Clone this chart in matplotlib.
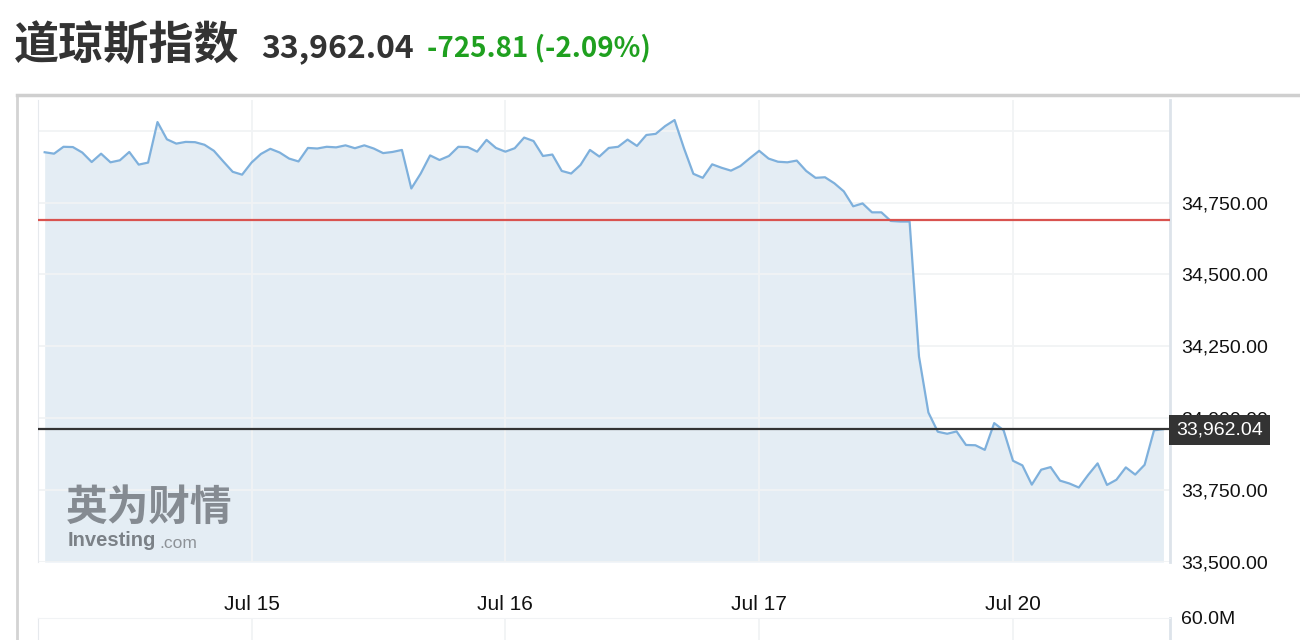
import numpy as np
import matplotlib
matplotlib.use("Agg")
from matplotlib import pyplot as plt

plt.rcParams['font.family'] = ['Liberation Sans', 'DejaVu Sans']
CJK = ['Noto Sans CJK SC', 'DejaVu Sans']

# ---- data (15-min closes) ----
title = "道琼斯指数"
last_price = 33962.04
change = -725.81
change_pct = -2.09
prev_close = 34687.85

prices = [
    34925, 34920, 34944, 34943, 34924, 34891, 34920, 34890, 34897, 34926,
    34882, 34889, 35030, 34970, 34955, 34961, 34960, 34951, 34930, 34893,
    34857, 34847, 34889, 34919, 34937, 34924, 34903, 34893, 34940, 34938,
    34944, 34942, 34949, 34939, 34949, 34938, 34922, 34926, 34933, 34799,
    34851, 34914, 34898, 34912, 34944, 34943, 34927, 34968, 34940, 34927,
    34939, 34976, 34964, 34912, 34917, 34860, 34851, 34881, 34933, 34910,
    34940, 34944, 34969, 34947, 34985, 34989, 35016, 35037, 34939, 34850,
    34836, 34883, 34871, 34861, 34877, 34904, 34930, 34903, 34892, 34890,
    34896, 34860, 34836, 34838, 34817, 34789, 34737, 34747, 34716, 34716,
    34686, 34684, 34684, 34215, 34020, 33953, 33946, 33954, 33907, 33906,
    33890, 33983, 33958, 33852, 33836, 33769, 33821, 33830, 33783, 33773,
    33759, 33803, 33843, 33768, 33786, 33829, 33804, 33838, 33958, 33962.04,
]
day_labels = ["Jul 15", "Jul 16", "Jul 17", "Jul 20"]
day_starts = [22, 49, 76, 103]
price_ticks = [33500, 33750, 34000, 34250, 34500, 34750, 35000]
vol_max = 60e6

# ---- layout helpers (pixels -> figure fraction) ----
W, H = 1300, 640
def box(l, t, r, b):
    return [l / W, 1 - b / H, (r - l) / W, (b - t) / H]

fig = plt.figure(figsize=(13, 6.4), dpi=100)

grid_c = '#f1f3f5'
edge_c = '#dde3ea'

# main price panel
ax = fig.add_axes(box(38, 100, 1170, 562))
x = np.arange(len(prices))
ax.fill_between(x, prices, price_ticks[0], color='#e4edf4', lw=0, zorder=1)
ax.plot(x, prices, color='#7eb0dc', lw=1.6, zorder=3)
ax.axhline(prev_close, color='#d9534f', lw=1.6, zorder=3)
ax.axhline(last_price, color='#333333', lw=1.6, zorder=3)
ax.set_xlim(-0.71, 119.7)
ax.set_ylim(33500, 35106.7)

ax.yaxis.tick_right()
ax.set_yticks(price_ticks)
ax.set_yticklabels([f"{v:,.2f}" if v < 35000 else "" for v in price_ticks])
ax.set_xticks(day_starts)
ax.set_xticklabels(day_labels)
ax.tick_params(axis='y', length=0, pad=8, labelsize=14, labelcolor='#111111')
ax.tick_params(axis='x', length=0, pad=24, labelsize=15, labelcolor='#111111')
ax.grid(color=grid_c, lw=1.3, zorder=2)
for s in ['top', 'bottom']:
    ax.spines[s].set_visible(False)
ax.spines['left'].set_color('#e6e9ed')
ax.spines['right'].set_color(edge_c)
ax.spines['right'].set_linewidth(2)

# last price flag (sits over the 34,000 label, as in the original)
ax.annotate(f"{last_price:,.2f}", xy=(1.0, last_price),
            xycoords=ax.get_yaxis_transform(),
            xytext=(6, -1), textcoords='offset pixels',
            ha='left', va='center', color='white', fontsize=14,
            bbox=dict(boxstyle='square,pad=0.35', fc='#333333', ec='none'),
            zorder=10, annotation_clip=False)

# volume panel (only its top is visible)
vax = fig.add_axes(box(38, 618, 1170, 720))
vax.set_xlim(-0.71, 119.7)
vax.set_ylim(0, vol_max)
vax.yaxis.tick_right()
vax.set_yticks([vol_max])
vax.set_yticklabels(["60.0M"])
vax.set_xticks(day_starts)
vax.set_xticklabels([])
vax.tick_params(length=0, pad=8, labelsize=14, labelcolor='#111111')
vax.grid(color=grid_c, lw=1.3)
vax.spines['top'].set_color(grid_c)
vax.spines['bottom'].set_visible(False)
vax.spines['left'].set_color('#e6e9ed')
vax.spines['right'].set_color(edge_c)
vax.spines['right'].set_linewidth(2)

# outer frame of the chart widget
fig.add_artist(plt.Line2D([17 / W, 17 / W], [1 - 95 / H, 0], color='#d3d3d3', lw=2,
                          transform=fig.transFigure))
fig.add_artist(plt.Line2D([17 / W, 1], [1 - 95 / H, 1 - 95 / H], color='#cfcfcf', lw=2.5,
                          transform=fig.transFigure))

# header
fig.text(14 / W, 1 - 46 / H, title, fontsize=32.5, fontweight='bold', family=CJK,
         color='#333333', va='center')
fig.text(261 / W, 1 - 48 / H, f"{last_price:,.2f}", fontsize=23, fontweight='bold',
         family=CJK, color='#333333', va='center')
fig.text(427 / W, 1 - 48 / H, f"{change:,.2f} ({change_pct:.2f}%)", fontsize=20,
         fontweight='bold', family=CJK, color='#1fa01f', va='center')

# watermark
fig.text(66 / W, 1 - 508 / H, "英为财情", fontsize=30, fontweight='bold', family=CJK,
         color='#7b8187', va='center', alpha=0.9, zorder=5)
fig.text(68 / W, 1 - 541 / H, "Investing", fontsize=14.5, fontweight='bold',
         color='#7b8187', va='center', zorder=5)
fig.text(159 / W, 1 - 543 / H, ".com", fontsize=12.5, color='#8d9297', va='center', zorder=5)

fig.savefig("out.png", dpi=100, facecolor='white')
